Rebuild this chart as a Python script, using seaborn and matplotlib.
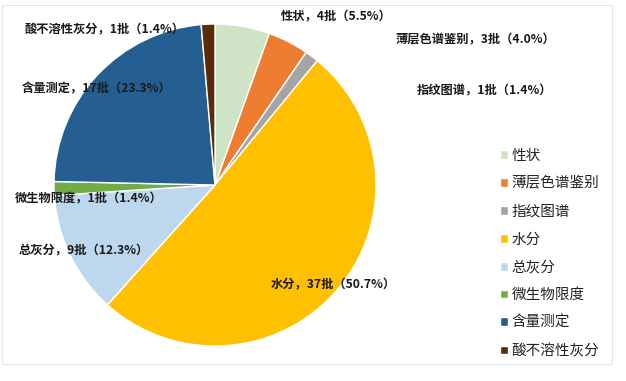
import matplotlib
matplotlib.use("Agg")
import matplotlib.pyplot as plt
from matplotlib.patches import Rectangle
import seaborn as sns

# ---- data ----
categories = ["性状", "薄层色谱鉴别", "指纹图谱", "水分", "总灰分", "微生物限度", "含量测定", "酸不溶性灰分"]
batches = [4, 3, 1, 37, 9, 1, 17, 1]
pct_labels = ["5.5%", "4.0%", "1.4%", "50.7%", "12.3%", "1.4%", "23.3%", "1.4%"]
colors = ["#CFE3C6", "#ED7D31", "#A5A5A5", "#FFC000", "#BDD7EE", "#70AD47", "#255E91", "#5B2C0A"]

# label centre positions in pixels (x, y from top)
label_pos = [(336, 17), (475, 40), (485, 91), (333, 285), (84, 251), (89, 199), (97, 89), (104, 30)]

sns.set_theme(style="white")
plt.rcParams["font.family"] = ["Noto Sans CJK SC", "DejaVu Sans"]

W, H = 626, 381
fig = plt.figure(figsize=(W / 100, H / 100), dpi=100)
fig.patch.set_facecolor("white")

# faint chart frame
fig.add_artist(Rectangle((2 / W, 1 - 364 / H), 610 / W, 359 / H, transform=fig.transFigure,
                         fill=False, edgecolor="#e6e6e6", linewidth=0.8))

cx, cy, r = 215, 185, 161
ax = fig.add_axes([(cx - r) / W, (H - cy - r) / H, 2 * r / W, 2 * r / H])
wedges, _ = ax.pie(batches, colors=colors, startangle=90, counterclock=False,
                   wedgeprops=dict(edgecolor="white", linewidth=1.0))
ax.set_xlim(-1, 1)
ax.set_ylim(-1, 1)
ax.set_aspect("equal")
ax.axis("off")

for cat, n, p, (px, py) in zip(categories, batches, pct_labels, label_pos):
    fig.text(px / W, 1 - py / H, f"{cat}，{n}批（{p}）", ha="center", va="center",
             fontsize=8.8, fontweight="bold", color="#1a1a1a")

leg = fig.legend(wedges, categories, loc="upper left",
                 bbox_to_anchor=(494 / W, 1 - 143 / H), frameon=False,
                 fontsize=10.5, handlelength=0.55, handleheight=0.55,
                 handletextpad=0.25, labelspacing=0.95, borderaxespad=0)
for t in leg.get_texts():
    t.set_color("#222222")

fig.savefig("out.png", dpi=100, facecolor="white")
